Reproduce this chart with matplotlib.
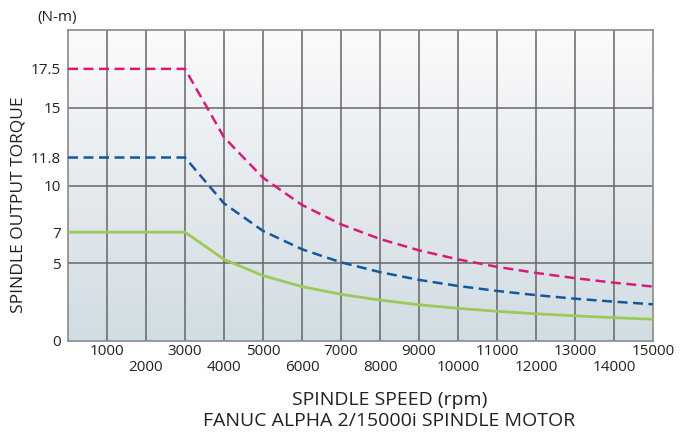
import numpy as np
import matplotlib
matplotlib.use("Agg")
import matplotlib.pyplot as plt
from matplotlib.colors import LinearSegmentedColormap

plt.rcParams['font.family'] = ['Open Sans', 'DejaVu Sans']

# speed points (rpm) and torque (N-m)
speed = [0, 1000, 2000, 3000, 4000, 5000, 6000, 7000, 8000, 9000,
         10000, 11000, 12000, 13000, 14000, 15000]
torque_pink = [17.5, 17.5, 17.5, 17.5, 13.1, 10.5, 8.75, 7.5, 6.56, 5.83,
               5.25, 4.77, 4.38, 4.04, 3.75, 3.5]
torque_blue = [11.8, 11.8, 11.8, 11.8, 8.85, 7.08, 5.9, 5.06, 4.43, 3.93,
               3.54, 3.22, 2.95, 2.72, 2.53, 2.36]
torque_green = [7.0, 7.0, 7.0, 7.0, 5.25, 4.2, 3.5, 3.0, 2.63, 2.33,
                2.1, 1.91, 1.75, 1.62, 1.5, 1.4]

y_ticks = [0, 5, 7, 10, 11.8, 15, 17.5]
y_labels = ["0", "5", "7", "10", "11.8", "15", "17.5"]
x_top = [1000, 3000, 5000, 7000, 9000, 11000, 13000, 15000]
x_bottom = [2000, 4000, 6000, 8000, 10000, 12000, 14000]

fig = plt.figure(figsize=(6.89, 4.32), dpi=100)
ax = fig.add_axes([68/689, 1 - 341/432, (653-68)/689, (341-30)/432])

# background gradient, white on top, bluish grey at the bottom
cmap = LinearSegmentedColormap.from_list("bg", ["#d0dde3", "#e6eaee", "#fafbfc"])
grad = np.linspace(0, 1, 256).reshape(-1, 1)
ax.imshow(grad, cmap=cmap, extent=[0, 15000, 0, 20], aspect='auto',
          origin='lower', zorder=0)

for x in range(1000, 15000, 1000):
    ax.axvline(x, color='#666666', lw=1.1, zorder=1)
for y in [5, 10, 15]:
    ax.axhline(y, color='#666666', lw=1.1, zorder=1)

ax.plot(speed, torque_pink, color='#d81b7b', lw=1.8, ls=(0, (4, 2.2)), zorder=3)
ax.plot(speed, torque_blue, color='#1357a0', lw=1.8, ls=(0, (4, 2.2)), zorder=3)
ax.plot(speed, torque_green, color='#9cc95a', lw=2.0, zorder=3)

ax.set_xlim(0, 15000)
ax.set_ylim(0, 20)
for s in ax.spines.values():
    s.set_color('#8a8a8a')
    s.set_linewidth(1.2)

ax.set_yticks(y_ticks)
ax.set_yticklabels(y_labels, fontsize=11, color='#222222')
# two rows of speed labels: odd thousands on top, even ones below
ax.set_xticks(x_top)
ax.set_xticklabels([str(v) for v in x_top], fontsize=11, color='#222222')
ax.set_xticks(x_bottom, minor=True)
ax.set_xticklabels([str(v) for v in x_bottom], minor=True, fontsize=11, color='#222222')
ax.tick_params(axis='both', which='both', length=0)
ax.tick_params(axis='y', pad=5)
ax.tick_params(axis='x', which='major', pad=2)
ax.tick_params(axis='x', which='minor', pad=14)

fig.text(19/689, 1 - 205/432, "SPINDLE OUTPUT TORQUE", fontsize=12.5, rotation=90,
         ha='center', va='center', color='#222222')
fig.text(57/689, 1 - 17/432, "(N-m)", fontsize=11, ha='center', va='center', color='#222222')
fig.text(390/689, 1 - 400/432, "SPINDLE SPEED (rpm)", fontsize=14, ha='center', va='center', color='#222222')
fig.text(389/689, 1 - 421/432, "FANUC ALPHA 2/15000i SPINDLE MOTOR", fontsize=14, ha='center', va='center', color='#222222')

fig.savefig("out.png", dpi=100)
